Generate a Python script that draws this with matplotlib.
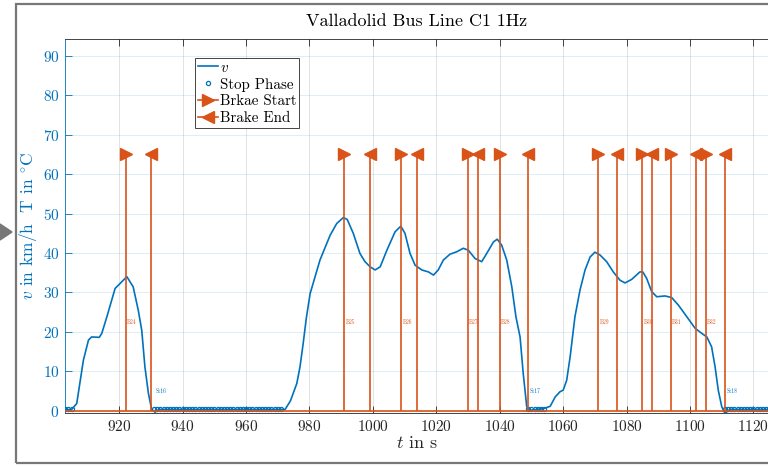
import numpy as np
import matplotlib
matplotlib.use('Agg')
import matplotlib.pyplot as plt
from matplotlib.lines import Line2D
from matplotlib.legend_handler import HandlerLine2D
from matplotlib.patches import Rectangle, Polygon

# speed trace (s, km/h)
t_speed = [903, 905, 906.6, 908.7, 910.3, 911.3, 913.7, 914.5, 916.1, 918.7,
           920.8, 922.4, 924.4, 926.0, 927.1, 928.1, 929.2, 930.2, 931.3,
           932.5, 971.5, 972.3, 974, 976, 977, 978, 979, 980.2, 983.3,
           986.5, 988.6, 990.7, 991.9, 993.8, 995.9, 997.5, 999.1, 1000.7, 1002.3,
           1004.4, 1007.0, 1008.8, 1010.1, 1011.7, 1013.3, 1015.4, 1017.5, 1019.1, 1020.6,
           1022.2, 1024.3, 1026.4, 1028.5, 1030.1, 1032.2, 1034.3, 1035.9, 1038.0, 1039.2,
           1040.6, 1042.2, 1043.8, 1045.1, 1046.4, 1047.4, 1048.5, 1049.3,
           1050.5, 1053.7, 1055.9, 1057.5, 1059, 1060, 1061.1, 1062.2, 1063.7, 1065.3,
           1066.9, 1068.5, 1070.0, 1071.6, 1073.7, 1075.8, 1077.9, 1079.5, 1081.6, 1084.2,
           1085.1, 1086.3, 1087.9, 1089.5, 1092.1, 1094.2, 1096.3, 1099.0, 1101.6, 1103.7,
           1105.3, 1106.8, 1107.9, 1108.9, 1110.0, 1111.0, 1112.6, 1125]
v_speed = [0.2, 0.3, 1.8, 12.8, 17.9, 18.7, 18.6, 19.6, 23.8, 31.0,
           32.7, 34.0, 31.4, 25.5, 20.4, 11.1, 4.4, 0.4, -0.4,
           0.3, 0.3, 0.3, 2.5, 6.9, 11.1, 17.0, 23.5, 29.7, 38.2,
           44.5, 47.5, 49.0, 48.5, 45.0, 39.9, 37.8, 36.5, 35.7, 36.5,
           40.7, 45.4, 46.8, 45.0, 39.9, 36.9, 35.7, 35.2, 34.4, 35.7,
           38.2, 39.7, 40.3, 41.2, 40.7, 38.6, 37.8, 39.9, 42.8, 43.5,
           42.0, 38.2, 31.4, 23.8, 18.7, 9.4, 1.0, 0.0,
           0.2, 0.5, 1.1, 3.5, 4.8, 5.2, 7.7, 13.7, 23.8, 30.6,
           35.7, 39.0, 40.2, 39.5, 37.8, 35.2, 33.1, 32.4, 33.3, 35.2,
           35.2, 33.6, 30.2, 28.9, 29.1, 28.7, 26.8, 23.8, 20.9, 19.6,
           18.7, 16.2, 11.1, 5.2, 1.0, -0.7, 0.3, 0.3]

# standstill windows (s)
stop_start = [903, 931, 1049, 1111]
stop_end = [905, 971, 1054, 1125]
stop_names = ['', 'St16', 'St17', 'St18']
stop_level = 0.3

# braking events (s)
brake_start = [922, 991, 1009, 1030, 1040, 1071, 1085, 1094, 1105]
brake_end = [930, 999, 1014, 1033, 1049, 1077, 1088, 1102, 1111]
brake_names = ['B24', 'B25', 'B26', 'B27', 'B28', 'B29', 'B30', 'B31', 'B32']
stem_height = 65

BLUE = '#0072BD'
ORANGE = '#D95319'
DARK = '#262626'

plt.rcParams['font.family'] = 'cmr10'
plt.rcParams['mathtext.fontset'] = 'cm'
plt.rcParams['axes.formatter.use_mathtext'] = True


class EndMarkerHandler(HandlerLine2D):
    # put the marker near the right end of the legend line
    def get_xdata(self, legend, xdescent, ydescent, width, height, fontsize):
        xdata = np.array([-xdescent, -xdescent + width])
        return xdata, np.array([-xdescent + 0.85 * width])


W, H = 768, 467
fig = plt.figure(figsize=(W / 100, H / 100), dpi=100)
ax = fig.add_axes([65 / W, 54 / H, 704 / W, 374 / H])

ax.plot(t_speed, v_speed, color=BLUE, lw=1.2, zorder=3)

for s0, s1 in zip(stop_start, stop_end):
    ts = np.arange(s0, s1 + 1)
    ax.plot(ts, np.full(ts.shape, stop_level), 'o', color=BLUE, mfc='none',
            ms=3, mew=0.9, zorder=3)
for s0, name in zip(stop_start, stop_names):
    if name:
        ax.text(s0 + 0.5, 5, name, color=BLUE, fontsize=4, va='center', ha='left')

# brake stems with baseline
ax.axhline(0, color=ORANGE, lw=1.2, zorder=4)
ax.vlines(brake_start, 0, stem_height, color=ORANGE, lw=1.2, zorder=4)
ax.vlines(brake_end, 0, stem_height, color=ORANGE, lw=1.2, zorder=4)
ax.plot(brake_start, [stem_height] * len(brake_start), '>', color=ORANGE,
        ms=9, zorder=5)
ax.plot(brake_end, [stem_height] * len(brake_end), '<', color=ORANGE,
        ms=9, zorder=5)
for b0, name in zip(brake_start, brake_names):
    ax.text(b0 + 0.4, 22.5, name, color=ORANGE, fontsize=4, va='center', ha='left')

ax.set_xlim(902.9, 1124.9)
ax.set_ylim(-0.6, 94.3)
ax.set_xticks(np.arange(920, 1121, 20))
ax.set_yticks(np.arange(0, 91, 10))
ax.tick_params(axis='x', direction='in', top=True, colors=DARK, labelsize=11,
               length=5, width=0.6, pad=4)
ax.tick_params(axis='y', direction='in', colors=BLUE, labelsize=11,
               length=5, width=0.6, pad=4)
ax.spines['left'].set_color(BLUE)
for side in ('top', 'bottom', 'right'):
    ax.spines[side].set_color(DARK)
for sp in ax.spines.values():
    sp.set_linewidth(0.6)

ax.grid(axis='x', color=DARK, alpha=0.15, lw=0.6)
ax.grid(axis='y', color=BLUE, alpha=0.15, lw=0.6)
ax.set_axisbelow(True)

ax.set_title('Valladolid Bus Line C1 1Hz', fontsize=13, color='black', pad=9)
ax.set_xlabel(r'$t$ in s', fontsize=13, color=DARK, labelpad=1)
ax.set_ylabel(r'$v$ in km/h  T in $^{\circ}\mathrm{C}$', fontsize=12.5, color=BLUE,
              labelpad=3)

handles = [
    Line2D([], [], color=BLUE, lw=1.2),
    Line2D([], [], color=BLUE, marker='o', mfc='none', ms=3, mew=0.9, ls='none'),
    Line2D([], [], color=ORANGE, lw=1.2, marker='>', ms=9),
    Line2D([], [], color=ORANGE, lw=1.2, marker='<', ms=9),
]
labels = [r'$v$', 'Stop Phase', 'Brkae Start', 'Brake End']
leg = ax.legend(handles, labels, loc='upper left', bbox_to_anchor=(130 / 704, 355 / 374),
                borderaxespad=0, fontsize=10.8, handlelength=1.35, handletextpad=0.1,
                labelspacing=0.2, borderpad=0.2, fancybox=False, framealpha=1,
                edgecolor=DARK,
                handler_map={handles[2]: EndMarkerHandler(numpoints=1),
                             handles[3]: EndMarkerHandler(numpoints=1)})
leg.get_frame().set_linewidth(0.6)

# surrounding window frame and pointer
fig.add_artist(Rectangle((16 / W, 4 / H), 800 / W, 459 / H, transform=fig.transFigure,
                         fill=False, edgecolor='#777777', lw=1.6))
fig.add_artist(Polygon([(0, 243 / H), (12 / W, 235 / H), (0, 227 / H)], closed=True,
                       transform=fig.transFigure, color='#777777'))

fig.savefig('out.png', dpi=100)
